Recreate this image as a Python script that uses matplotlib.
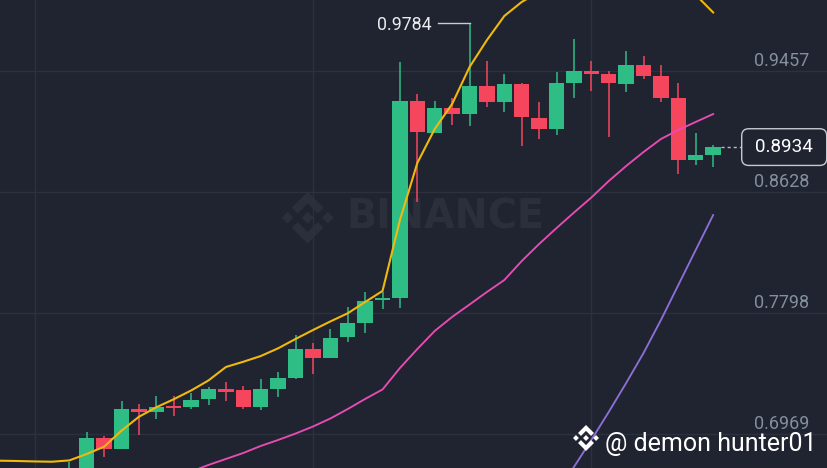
import numpy as np
import matplotlib
matplotlib.use("Agg")
import matplotlib.pyplot as plt
from matplotlib.patches import Polygon, FancyBboxPatch

# ---- candles, oldest -> newest (price) ----
opens  = [0.6680, 0.6690, 0.6941, 0.6865, 0.7137, 0.7117, 0.7158, 0.7151, 0.7206, 0.7269,
          0.7269, 0.7151, 0.7274, 0.7349, 0.7548, 0.7491, 0.7635, 0.7730, 0.7886, 0.7898,
          0.9252, 0.9032, 0.9199, 0.9160, 0.9352, 0.9245, 0.9366, 0.9135, 0.9056, 0.9373,
          0.9453, 0.9432, 0.9368, 0.9496, 0.9421, 0.9270, 0.8845, 0.8880]
highs  = [0.6778, 0.6982, 0.6956, 0.7194, 0.7173, 0.7228, 0.7228, 0.7251, 0.7292, 0.7324,
          0.7297, 0.7347, 0.7393, 0.7646, 0.7594, 0.7690, 0.7840, 0.7943, 0.7943, 0.9519,
          0.9295, 0.9249, 0.9268, 0.9784, 0.9526, 0.9434, 0.9371, 0.9245, 0.9448, 0.9676,
          0.9521, 0.9453, 0.9590, 0.9560, 0.9494, 0.9371, 0.9032, 0.8948]
lows   = [0.6660, 0.6680, 0.6808, 0.6865, 0.6961, 0.7069, 0.7091, 0.7137, 0.7165, 0.7196,
          0.7137, 0.7132, 0.7224, 0.7345, 0.7377, 0.7487, 0.7600, 0.7658, 0.7822, 0.7829,
          0.8559, 0.9032, 0.9085, 0.9080, 0.9206, 0.9176, 0.8941, 0.8987, 0.9015, 0.9268,
          0.9318, 0.9005, 0.9309, 0.9398, 0.9245, 0.8749, 0.8811, 0.8795]
closes = [0.6725, 0.6943, 0.6865, 0.7137, 0.7122, 0.7155, 0.7146, 0.7201, 0.7274, 0.7259,
          0.7151, 0.7274, 0.7349, 0.7548, 0.7491, 0.7628, 0.7730, 0.7881, 0.7895, 0.9249,
          0.9035, 0.9199, 0.9160, 0.9352, 0.9245, 0.9364, 0.9138, 0.9056, 0.9375, 0.9455,
          0.9432, 0.9371, 0.9498, 0.9421, 0.9272, 0.8845, 0.8877, 0.8934]

# ---- moving averages, one value per candle slot, starting 4 slots before the first candle ----
ma_start = -4
nan = np.nan
ma7  = [0.6785, 0.6783, 0.6780, 0.6778,
        0.6787, 0.6831, 0.6881, 0.6991, 0.7086, 0.7151, 0.7206, 0.7266, 0.7335, 0.7427,
        0.7463, 0.7502, 0.7555, 0.7619, 0.7680, 0.7739, 0.7795, 0.7872, 0.7948, 0.8434,
        0.8825, 0.9058, 0.9229, 0.9482, 0.9667, 0.9832, 0.9928, 0.9996, nan, nan,
        nan, nan, nan, nan, nan, nan, 0.9976, 0.9856]
ma25 = [nan, nan, nan, nan,
        nan, nan, nan, nan, nan, 0.6625, 0.6667, 0.6711, 0.6756, 0.6797,
        0.6838, 0.6886, 0.6927, 0.6971, 0.7019, 0.7074, 0.7139, 0.7208, 0.7273, 0.7420,
        0.7550, 0.7674, 0.7770, 0.7855, 0.7941, 0.8023, 0.8153, 0.8270, 0.8379, 0.8485,
        0.8588, 0.8701, 0.8804, 0.8900, 0.8989, 0.9051, 0.9106, 0.9160]
ma99 = [nan] * 32 + [0.6557, 0.6742, 0.6927, 0.7119, 0.7317, 0.7523, 0.7749, 0.7989, 0.8229, 0.8468]

price_ticks = [0.9457, 0.8628, 0.7798, 0.6969]
time_grid = [-2, 14, 30]          # candle slots with a vertical grid line
watermark = "BINANCE"
handle = "@ demon hunter01"

BG = "#1f2430"
GRID = "#2b313d"
UP, DOWN = "#2ebd85", "#f6465d"
YELLOW, PINK, PURPLE = "#f0b90b", "#e84cb4", "#8c6fd6"
TICK_TXT = "#848e9c"

W, H = 828, 468

# Binance logo outline (svg units, 126.61 square)
LOGO = [
    [(38.73, 53.2), (63.3, 28.63), (87.88, 53.21), (102.18, 38.91), (63.3, 0), (24.42, 38.88)],
    [(0, 63.31), (14.3, 49.01), (28.6, 63.31), (14.3, 77.61)],
    [(38.73, 73.41), (63.3, 97.98), (87.88, 73.41), (102.18, 87.7), (63.3, 126.61), (24.42, 87.73)],
    [(98.01, 63.31), (112.31, 49.01), (126.61, 63.31), (112.31, 77.61)],
    [(77.83, 63.3), (63.3, 48.77), (48.77, 63.3), (63.3, 77.84)],
]


def draw_logo(a, x0, y0, size, color):
    s = size / 126.61
    for poly in LOGO:
        pts = [(x0 + px * s, y0 + py * s) for px, py in poly]
        a.add_patch(Polygon(pts, closed=True, fc=color, ec="none"))


fig = plt.figure(figsize=(W / 100, H / 100), dpi=100)
fig.patch.set_facecolor(BG)

# background layer: watermark
bg = fig.add_axes([0, 0, 1, 1], zorder=0)
bg.set_xlim(0, W); bg.set_ylim(H, 0); bg.axis("off")
draw_logo(bg, 281.7, 191.7, 52, "#2a2f3b")
bg.text(346, 217.5, watermark, color="#2a2f3b", fontsize=28.5, fontweight="bold",
        family="DejaVu Sans", ha="left", va="center")

# chart layer
ax = fig.add_axes([0, 0, 1, 1], zorder=1)
ax.set_facecolor("none")
ax.set_xlim(-3.983, 43.6)
ax.set_ylim(0.6735, 0.994138)
for s in ax.spines.values():
    s.set_visible(False)
ax.set_xticks([]); ax.set_yticks([])

for p in price_ticks:
    ax.axhline(p, color=GRID, lw=1, zorder=0)
for t in time_grid:
    ax.axvline(t, color=GRID, lw=1, zorder=0)

o = np.array(opens); c = np.array(closes)
x = np.arange(len(o))
cols = [UP if cc >= oo else DOWN for oo, cc in zip(o, c)]
bottom = np.minimum(o, c)
height = np.maximum(np.abs(c - o), 0.0015)
ax.vlines(x, lows, highs, colors=cols, lw=1.1, zorder=2)
ax.bar(x, height, bottom=bottom, width=0.88, color=cols, zorder=3)

mx = np.arange(ma_start, ma_start + len(ma7))
ax.plot(mx, ma7, color=YELLOW, lw=1.5, zorder=4, solid_joinstyle="round")
ax.plot(mx, ma25, color=PINK, lw=1.35, zorder=4, solid_joinstyle="round")
ax.plot(mx, ma99, color=PURPLE, lw=1.35, zorder=4, solid_joinstyle="round")

for p in price_ticks:
    ax.annotate(f"{p:.4f}", xy=(0.977, p), xycoords=ax.get_yaxis_transform(),
                xytext=(0, 7.2), textcoords="offset points", ha="right", va="center",
                color=TICK_TXT, fontsize=13, family="Roboto")

# highest high marker
ip = int(np.argmax(highs))
ax.plot([ip - 1.8, ip], [highs[ip], highs[ip]], color="#c9ccd2", lw=1, zorder=4)
ax.annotate(f"{highs[ip]:.4f}", xy=(ip - 2.16, highs[ip]), xytext=(0, -1.5),
            textcoords="offset points", ha="right", va="center",
            color="#eaecef", fontsize=12.8, family="Roboto")

# last price line + box
last = closes[-1]
ax.plot([len(o) - 1 + 0.47, len(o) - 1 + 1.62], [last, last], color="#b7bdc6",
        lw=1, ls=(0, (2.2, 2.2)), zorder=4)

fg = fig.add_axes([0, 0, 1, 1], zorder=2)
fg.set_xlim(0, W); fg.set_ylim(H, 0); fg.axis("off")
y_px = H - ax.transData.transform((0, last))[1]
fg.add_patch(FancyBboxPatch((741.7, y_px - 18.3), 85, 36.7,
                            boxstyle="round,pad=0,rounding_size=7",
                            fc=BG, ec="#c5c9d0", lw=1))
fg.text(784.2, y_px, f"{last:.4f}", color="#ffffff", fontsize=13.6, family="Roboto",
        ha="center", va="center")

draw_logo(fg, 573, 425, 26, "#ffffff")
fg.text(605, 450.7, handle, color="#ffffff", fontsize=18, family="Roboto",
        ha="left", va="baseline")

fig.savefig("out.png", dpi=100, facecolor=BG)
